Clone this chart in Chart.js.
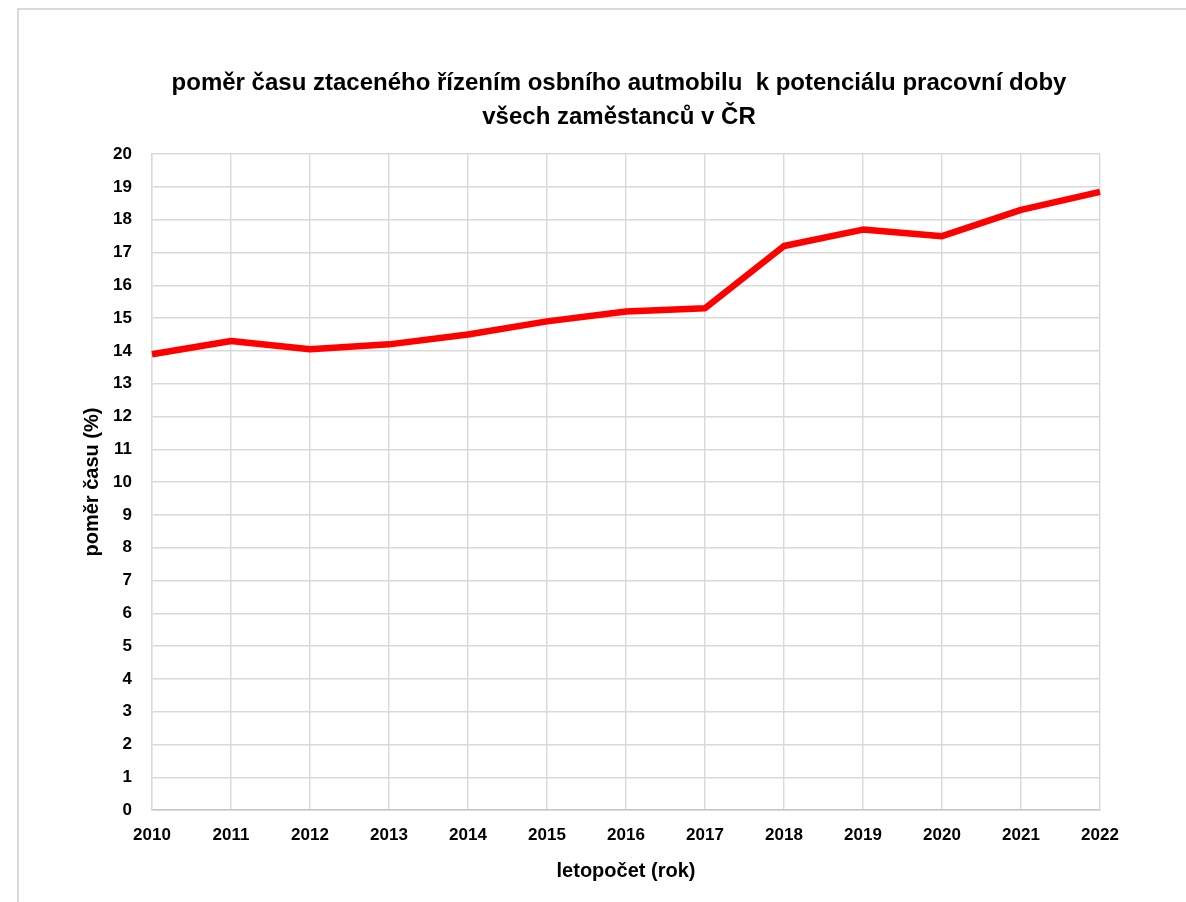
<!DOCTYPE html>
<html>
<head>
<meta charset="utf-8">
<script src="https://cdn.jsdelivr.net/npm/chart.js@4.4.1/dist/chart.umd.min.js"></script>
<style>
  html, body { margin: 0; padding: 0; background: #fff; overflow: hidden; }
  #frame {
    position: absolute; left: 17px; top: 8px;
    border-left: 2px solid #d9d9d9; border-top: 2px solid #d9d9d9;
  }
  #chart { display: block; }
</style>
</head>
<body>
<div id="frame"><canvas id="chart" width="1200" height="892"></canvas></div>
<script>
const years = ["2010", "2011", "2012", "2013", "2014", "2015", "2016", "2017", "2018", "2019", "2020", "2021", "2022"];
const timeRatio = [13.9, 14.3, 14.05, 14.2, 14.5, 14.9, 15.2, 15.3, 17.2, 17.7, 17.5, 18.3, 18.85];

const titleLines = [
    "poměr času ztaceného řízením osbního autmobilu  k potenciálu pracovní doby",
    "všech zaměstanců v ČR"
];
const xTitle = "letopočet (rok)";
const yTitle = "poměr času (%)";

const fontFamily = "'Liberation Sans', Arial, sans-serif";

const ctx = document.getElementById("chart").getContext("2d");

new Chart(ctx, {
    type: "line",
    data: {
        labels: years,
        datasets: [{
            data: timeRatio,
            borderColor: "#ff0000",
            borderWidth: 6.5,
            borderJoinStyle: "round",
            pointRadius: 0,
            fill: false,
            tension: 0
        }]
    },
    options: {
        responsive: false,
        animation: false,
        layout: {
            padding: { top: 0, right: 0, bottom: 19, left: 0 }
        },
        scales: {
            x: {
                offset: false,
                grid: { color: "#d9d9d9", lineWidth: 1.4, drawTicks: false },
                border: { color: "#c8c8c8", width: 1.4 },
                ticks: {
                    padding: 17,
                    maxRotation: 0,
                    color: "#000",
                    font: { family: fontFamily, size: 17, weight: "bold", lineHeight: 1 }
                },
                title: {
                    display: true,
                    text: xTitle,
                    color: "#000",
                    padding: { top: 0, bottom: 2 },
                    font: { family: fontFamily, size: 20, weight: "bold", lineHeight: 1 }
                },
                // keep empty space right of the plot without shifting the title
                afterFit(scale) {
                    scale.paddingRight = 119;
                }
            },
            y: {
                min: 0,
                max: 20,
                grid: { color: "#d9d9d9", lineWidth: 1.4, drawTicks: false },
                border: { color: "#d9d9d9", width: 1.4 },
                ticks: {
                    stepSize: 1,
                    padding: 20,
                    color: "#000",
                    font: { family: fontFamily, size: 17, weight: "bold" }
                },
                title: {
                    display: true,
                    text: yTitle,
                    color: "#000",
                    padding: { top: 61, bottom: 0 },
                    font: { family: fontFamily, size: 20, weight: "bold" }
                },
                afterFit(scale) {
                    scale.width = 133;
                }
            }
        },
        plugins: {
            legend: { display: false },
            tooltip: { enabled: false },
            title: {
                display: true,
                text: titleLines,
                color: "#000",
                padding: { top: 56, bottom: 20 },
                font: { family: fontFamily, size: 24, weight: "bold", lineHeight: 1.42 }
            }
        }
    }
});
</script>
</body>
</html>
